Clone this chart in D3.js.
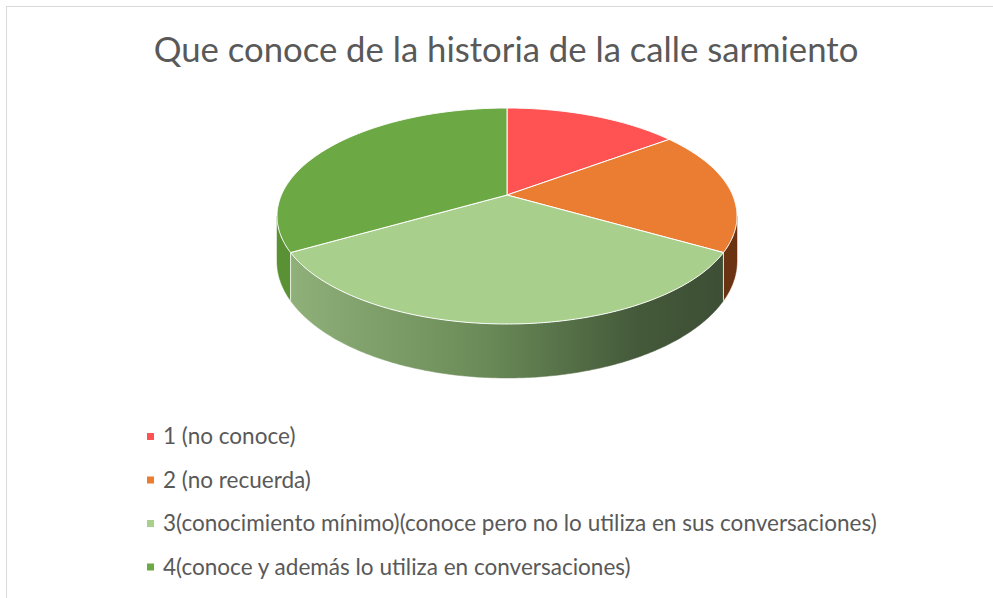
<head>
  <style>
    body { margin: 0; background: #fff; }
    text { font-family: Lato, "Open Sans", sans-serif; fill: #595959; }
  </style>
  <script src="https://cdn.jsdelivr.net/npm/d3@7"></script>
</head>
<body>
  <svg id="svg" width="993" height="598"></svg>
  <script>
    // data
    let titleText = "Que conoce de la historia de la calle sarmiento";
    let categories = [
      "1 (no conoce)",
      "2 (no recuerda)",
      "3(conocimiento mínimo)(conoce pero no lo utiliza en sus conversaciones)",
      "4(conoce y además lo utiliza en conversaciones)"
    ];
    let values = [4, 5, 9, 9];
    let topColors = ["#ff5353", "#ea7d32", "#a9cf8c", "#6ca844"];
    let sideColors = ["#b23a3a", "#6a3311", "url(#sideGrad)", "#5a9135"];

    let svg = d3.select("#svg");

    // chart frame
    svg.append("rect")
      .attr("x", 6.5).attr("y", 6.5)
      .attr("width", 1000).attr("height", 600)
      .attr("fill", "none").attr("stroke", "#d9d9d9");

    // title
    let title = svg.append("text")
      .attr("x", 506).attr("y", 62)
      .attr("text-anchor", "middle")
      .style("font-size", "32px")
      .text(titleText);
    let tw = title.node().getComputedTextLength();
    title.style("font-size", (32 * 705 / tw) + "px");

    // 3d pie projection (a = angle from 12 o'clock, clockwise)
    let cx = 507, cy = 195;
    let A = 225.6, B = 103.9, k = 0.1945, D = 43.5;
    function proj(a, bottom) {
      let w = 1 + k * Math.cos(a);
      return [cx + A * Math.sin(a) / w,
              cy - B * Math.cos(a) / w + (bottom ? D / w : 0)];
    }
    function arcPts(a0, a1, bottom) {
      let n = Math.max(2, Math.ceil(Math.abs(a1 - a0) / 0.01));
      return d3.range(n + 1).map(i => proj(a0 + (a1 - a0) * i / n, bottom));
    }

    let pie = d3.pie().sort(null).value(d => d)(values);
    let defs = svg.append("defs");
    let grad = defs.append("linearGradient")
      .attr("id", "sideGrad")
      .attr("gradientUnits", "userSpaceOnUse")
      .attr("x1", 290).attr("x2", 725).attr("y1", 0).attr("y2", 0);
    grad.append("stop").attr("offset", 0).attr("stop-color", "#90b07a");
    grad.append("stop").attr("offset", 0.45).attr("stop-color", "#6a8a57");
    grad.append("stop").attr("offset", 0.8).attr("stop-color", "#44593a");
    grad.append("stop").attr("offset", 1).attr("stop-color", "#3d4e34");

    let line = d3.line();
    let visL = Math.acos(-k), visR = 2 * Math.PI - Math.acos(-k);

    // side walls
    pie.forEach((p, i) => {
      let s = Math.max(p.startAngle, visL), e = Math.min(p.endAngle, visR);
      if (e <= s) return;
      let pts = arcPts(s, e, false).concat(arcPts(e, s, true));
      svg.append("path")
        .attr("d", line(pts) + "Z")
        .attr("fill", sideColors[i])
        .attr("stroke", sideColors[i]).attr("stroke-width", 0.5);
      // white seam at slice edges
      [p.startAngle, p.endAngle].forEach(a => {
        if (a > visL && a < visR) {
          svg.append("path")
            .attr("d", line([proj(a, false), proj(a, true)]))
            .attr("stroke", "#ffffff").attr("stroke-width", 1).attr("opacity", 0.8);
        }
      });
    });

    // top face
    pie.forEach((p, i) => {
      let pts = [[cx, cy]].concat(arcPts(p.startAngle, p.endAngle, false));
      svg.append("path")
        .attr("d", line(pts) + "Z")
        .attr("fill", topColors[i])
        .attr("stroke", "#ffffff").attr("stroke-width", 1)
        .attr("stroke-linejoin", "round");
    });

    // legend
    let legend = svg.append("g").selectAll("g")
      .data(categories).enter().append("g")
      .attr("transform", (d, i) => "translate(147," + (437 + i * 43.5) + ")");
    legend.append("rect")
      .attr("x", 0).attr("y", -4).attr("width", 7).attr("height", 7)
      .attr("fill", (d, i) => topColors[i]);
    let lt = legend.append("text")
      .attr("x", 16).attr("y", 7)
      .style("font-size", "19px")
      .text(d => d);
    let lw = lt.nodes()[2].getComputedTextLength();
    lt.style("font-size", (19 * 714 / lw) + "px");
  </script>
</body>
